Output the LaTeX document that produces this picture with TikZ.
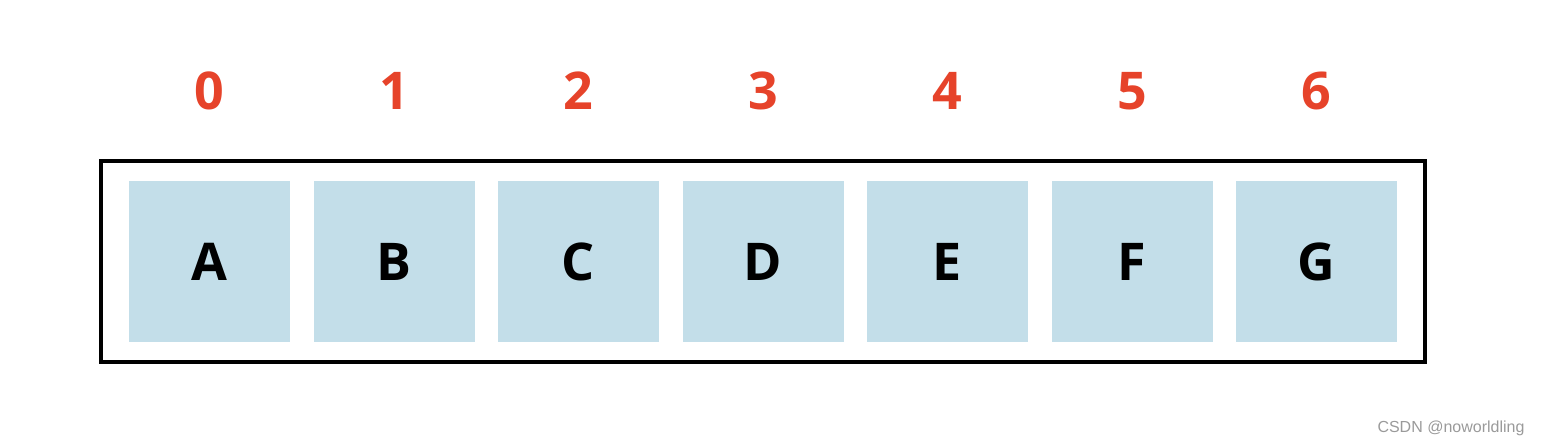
\documentclass[tikz,border=0pt]{standalone}
\usepackage{fontspec}
\setmainfont{Open Sans}
\newfontfamily\markfont{Liberation Sans}
\usetikzlibrary{fit}
\definecolor{cellblue}{HTML}{C3DEE9}
\definecolor{idxred}{HTML}{E6432A}
\definecolor{markgray}{HTML}{9A9A9A}
\tikzset{
  cell/.style={fill=cellblue, minimum width=161pt, minimum height=160pt, inner sep=0pt, font=\fontsize{52}{52}\selectfont\bfseries},
  idx/.style={text=idxred, font=\fontsize{52}{52}\selectfont\bfseries},
  frame/.style={draw=black, line width=4pt, inner xsep=28pt, inner ysep=20pt}
}
\begin{document}
\begin{tikzpicture}[x=1pt,y=-1pt]
  \useasboundingbox (0,0) rectangle (1542,446);
  \foreach \i/\l in {0/A,1/B,2/C,3/D,4/E,5/F,6/G}{
    \node[cell] (c\i) at (209.5+184.5*\i,261.5) {\l};
    \node[idx] (n\i) at (209.5+184.5*\i,91) {\i};
  }
  \node[frame, fit=(c0) (c6)] (arr) {};
  \node[text=markgray, font=\markfont\fontsize{16}{16}\selectfont, anchor=east] (mark) at (1528,428) {CSDN @noworldling};
\end{tikzpicture}
\end{document}
